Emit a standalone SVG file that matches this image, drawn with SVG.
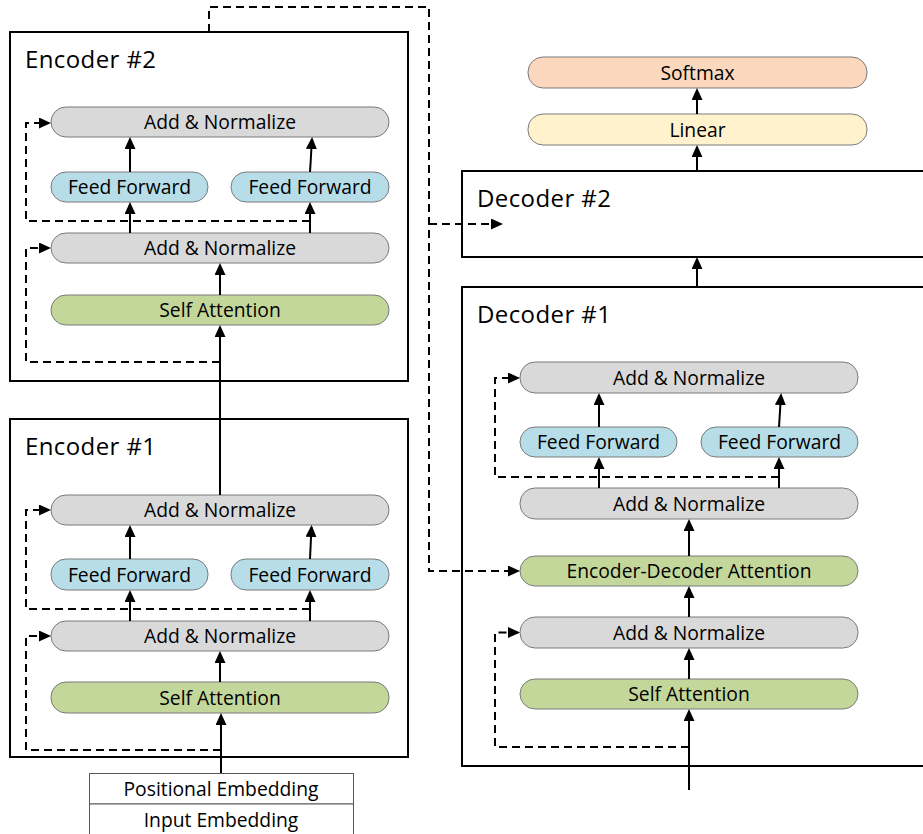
<svg xmlns="http://www.w3.org/2000/svg" width="923" height="834" viewBox="0 0 923 834">
<defs>
<marker id="ah" markerUnits="userSpaceOnUse" markerWidth="12" markerHeight="11" refX="10" refY="5.5" orient="auto">
<path d="M0,0 L12,5.5 L0,11 z" fill="#000"/>
</marker>
<style>
.box{fill:#fff;stroke:#000;stroke-width:2}
.pill{stroke:#7a7a7a;stroke-width:1}
.gray{fill:#d9d9d9}
.blue{fill:#b7dee8}
.green{fill:#c4d79b}
.soft{fill:#fad7bd}
.lin{fill:#fff2cc}
.emb{fill:#fff;stroke:#595959;stroke-width:1}
text{font-family:"Open Sans","Noto Sans","Liberation Sans",sans-serif;fill:#000}
.t{font-size:19.3px;text-anchor:middle}
.title{font-size:24px;letter-spacing:0.4px}
.ln{fill:none;stroke:#000;stroke-width:2;marker-end:url(#ah)}
.da{fill:none;stroke:#000;stroke-width:2;stroke-dasharray:8,5;marker-end:url(#ah)}
</style>
</defs>

<g id="encoder2">
<rect class="box" x="10" y="32" width="398" height="349"/>
<text class="title" x="25" y="68">Encoder #2</text>
</g>
<g id="encoder1">
<rect class="box" x="10" y="419" width="398" height="338"/>
<text class="title" x="25" y="455">Encoder #1</text>
</g>
<g id="decoder2">
<rect class="box" x="462" y="171" width="470" height="86"/>
<text class="title" x="477" y="207">Decoder #2</text>
</g>
<g id="decoder1">
<rect class="box" x="462" y="287" width="470" height="479"/>
<text class="title" x="477" y="323">Decoder #1</text>
</g>

<g id="e2-addnorm-top"><rect class="pill gray" x="51" y="107" width="338" height="30" rx="15"/><text class="t" x="220" y="129">Add &amp; Normalize</text></g>
<g id="e2-ff-left"><rect class="pill blue" x="51" y="172" width="157" height="30" rx="15"/><text class="t" x="129.5" y="194">Feed Forward</text></g>
<g id="e2-ff-right"><rect class="pill blue" x="231" y="172" width="158" height="30" rx="15"/><text class="t" x="310" y="194">Feed Forward</text></g>
<g id="e2-addnorm-mid"><rect class="pill gray" x="51" y="233" width="338" height="30" rx="15"/><text class="t" x="220" y="255">Add &amp; Normalize</text></g>
<g id="e2-selfatt"><rect class="pill green" x="51" y="295" width="338" height="30" rx="15"/><text class="t" x="220" y="317">Self Attention</text></g>

<g id="e1-addnorm-top"><rect class="pill gray" x="51" y="495" width="338" height="30" rx="15"/><text class="t" x="220" y="517">Add &amp; Normalize</text></g>
<g id="e1-ff-left"><rect class="pill blue" x="51" y="559" width="157" height="31" rx="15"/><text class="t" x="129.5" y="581.5">Feed Forward</text></g>
<g id="e1-ff-right"><rect class="pill blue" x="231" y="559" width="158" height="31" rx="15"/><text class="t" x="310" y="581.5">Feed Forward</text></g>
<g id="e1-addnorm-mid"><rect class="pill gray" x="51" y="621" width="338" height="30" rx="15"/><text class="t" x="220" y="643">Add &amp; Normalize</text></g>
<g id="e1-selfatt"><rect class="pill green" x="51" y="682" width="338" height="31" rx="15"/><text class="t" x="220" y="704.5">Self Attention</text></g>

<g id="embedding">
<rect class="emb" x="89.5" y="773.5" width="264" height="30.5"/>
<rect class="emb" x="89.5" y="804" width="264" height="35"/>
<text class="t" x="221" y="795.5">Positional Embedding</text>
<text class="t" x="221" y="827">Input Embedding</text>
</g>

<g id="softmax"><rect class="pill soft" x="528" y="57" width="339" height="31" rx="15"/><text class="t" x="697.5" y="79.5">Softmax</text></g>
<g id="linear"><rect class="pill lin" x="528" y="114" width="339" height="31" rx="15"/><text class="t" x="697.5" y="136.5">Linear</text></g>

<g id="d1-addnorm-top"><rect class="pill gray" x="520" y="362" width="338" height="31" rx="15"/><text class="t" x="689" y="384.5">Add &amp; Normalize</text></g>
<g id="d1-ff-left"><rect class="pill blue" x="520" y="427" width="157" height="30" rx="15"/><text class="t" x="598.5" y="449">Feed Forward</text></g>
<g id="d1-ff-right"><rect class="pill blue" x="701" y="427" width="157" height="30" rx="15"/><text class="t" x="779.5" y="449">Feed Forward</text></g>
<g id="d1-addnorm-mid"><rect class="pill gray" x="520" y="488" width="338" height="31" rx="15"/><text class="t" x="689" y="510.5">Add &amp; Normalize</text></g>
<g id="d1-encdec"><rect class="pill green" x="520" y="556" width="338" height="30" rx="15"/><text class="t" x="689" y="578">Encoder-Decoder Attention</text></g>
<g id="d1-addnorm-low"><rect class="pill gray" x="520" y="617" width="338" height="31" rx="15"/><text class="t" x="689" y="639.5">Add &amp; Normalize</text></g>
<g id="d1-selfatt"><rect class="pill green" x="520" y="679" width="338" height="30" rx="15"/><text class="t" x="689" y="701">Self Attention</text></g>

<g id="connectors">
<path class="ln" d="M220,495 V327"/>
<path class="ln" d="M220,295 V265"/>
<path class="ln" d="M130,233 V204"/>
<path class="ln" d="M310,233 V204"/>
<path class="ln" d="M130,172 V139"/>
<path class="ln" d="M310,172 L312,139"/>
<path class="da" d="M220,362 H26 V248 H49"/>
<path class="da" d="M310,221 H26 V123 H49"/>
<path class="ln" d="M221,773 V715"/>
<path class="ln" d="M220,682 V653"/>
<path class="ln" d="M130,621 V592"/>
<path class="ln" d="M310,621 V592"/>
<path class="ln" d="M130,559 V527"/>
<path class="ln" d="M310,559 L311.5,527"/>
<path class="da" d="M221,750 H26 V636 H49"/>
<path class="da" d="M310,609 H26 V510 H49"/>
<path class="da" d="M209,32 V7 H429 V571 H518"/>
<path class="da" d="M429,224 H501"/>
<path class="ln" d="M689,790 V711"/>
<path class="ln" d="M689,679 V650"/>
<path class="ln" d="M689,617 V588"/>
<path class="ln" d="M689,556 V521"/>
<path class="ln" d="M599,488 V459"/>
<path class="ln" d="M779,488 V459"/>
<path class="ln" d="M599,427 V395"/>
<path class="ln" d="M779,427 L781,395"/>
<path class="da" d="M689,747 H495 V632.5 H518"/>
<path class="da" d="M779,477 H495 V378 H518"/>
<path class="ln" d="M697,287 V259"/>
<path class="ln" d="M697,171 V147"/>
<path class="ln" d="M697,114 V90"/>
</g>
</svg>
